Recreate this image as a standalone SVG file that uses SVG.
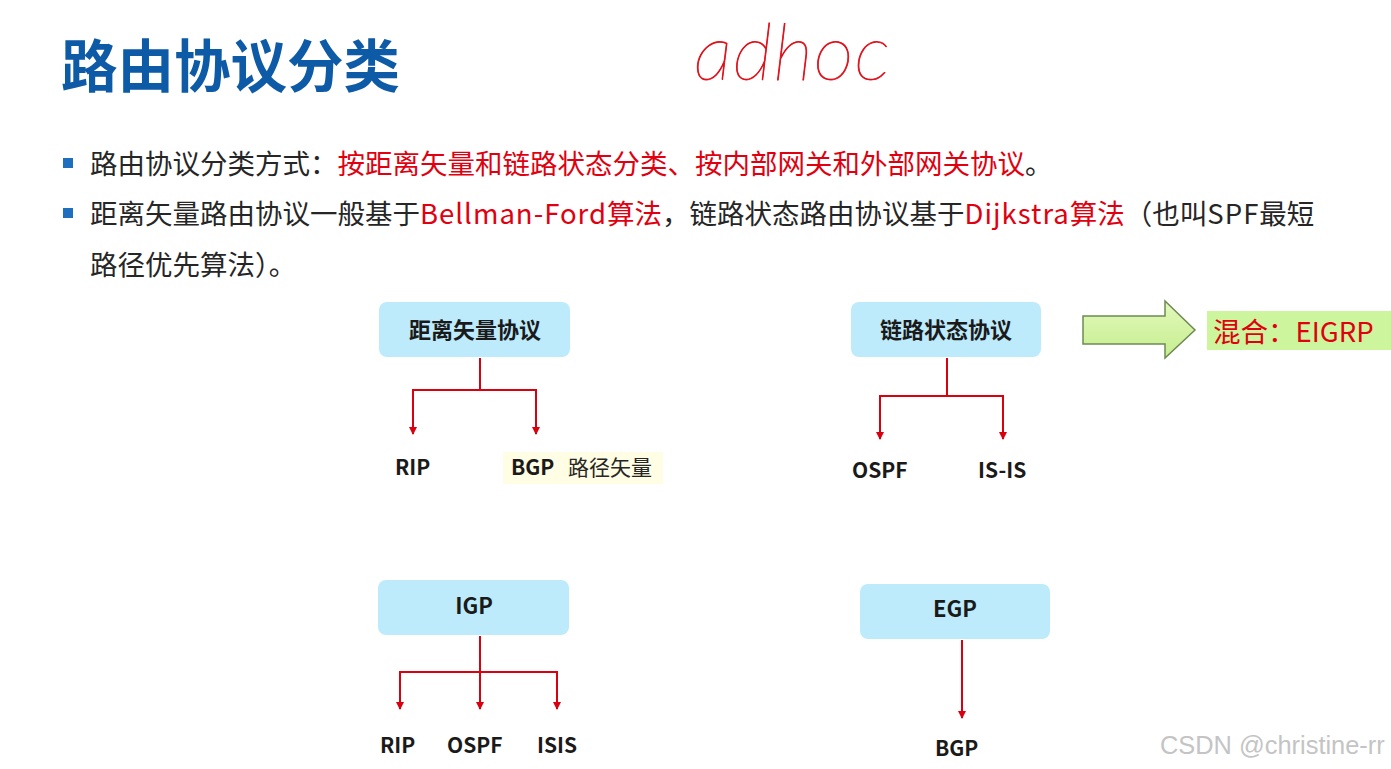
<svg xmlns="http://www.w3.org/2000/svg" width="1391" height="769" viewBox="0 0 1391 769">
<style>
text{font-family:"Noto Sans CJK SC","Liberation Sans",sans-serif;}
.title{font-size:56.5px;font-weight:bold;fill:#0D5AA7;}
.body{font-size:27.5px;fill:#262626;}
.red{fill:#E0000F;}
.lat{letter-spacing:1px;}
.node rect.box{fill:#BDEBFB;}
.ntext{font-size:22px;font-weight:bold;fill:#1A1A1A;text-anchor:middle;}
.leaf{font-size:21px;font-weight:bold;fill:#1A1A1A;}
.conn{fill:none;stroke:#D9000F;stroke-width:2;}
.bullet{fill:#1F6FBF;}
</style>
<defs>
<marker id="ah" markerWidth="10" markerHeight="10" refX="7" refY="5" orient="auto" markerUnits="userSpaceOnUse" viewBox="0 0 10 10">
<path d="M0,1 L8,5 L0,9 Z" fill="#D9000F"/>
</marker>
<linearGradient id="g" x1="0" y1="0" x2="0" y2="1">
<stop offset="0" stop-color="#E2F8BD"/>
<stop offset="1" stop-color="#C6EE8E"/>
</linearGradient>
</defs>
<rect width="1391" height="769" fill="#FFFFFF"/>

<g id="title"><text class="title" x="61" y="87">路由协议分类</text></g>
<g id="handwriting"><text x="694" y="80" font-size="78" font-weight="100" font-style="italic" fill="#E0101A" stroke="#E0101A" stroke-width="0.8" letter-spacing="1" style="font-family:Lato,Roboto,sans-serif">adhoc</text></g>

<g id="bullets">
<rect class="bullet" x="63" y="158" width="10" height="10"/>
<rect class="bullet" x="63" y="208" width="10" height="10"/>
<text class="body" x="90" y="173.5">路由协议分类方式：<tspan class="red">按距离矢量和链路状态分类、按内部网关和外部网关协议</tspan>。</text>
<text class="body" x="90" y="223.5">距离矢量路由协议一般基于<tspan class="red"><tspan class="lat">Bellman-Ford</tspan>算法</tspan>，链路状态路由协议基于<tspan class="red"><tspan class="lat">Dijkstra</tspan>算法</tspan>（也叫<tspan class="lat">SPF</tspan>最短</text>
<text class="body" x="90" y="275">路径优先算法）。</text>
</g>

<g id="connectors">
<path class="conn" d="M480,358 V390 M413,390 H536"/>
<path class="conn" d="M413,389 V434" marker-end="url(#ah)"/>
<path class="conn" d="M536,389 V434" marker-end="url(#ah)"/>
<path class="conn" d="M947,358 V396 M880,396 H1003"/>
<path class="conn" d="M880,395 V439" marker-end="url(#ah)"/>
<path class="conn" d="M1003,395 V439" marker-end="url(#ah)"/>
<path class="conn" d="M480,636 V672 M400,672 H557"/>
<path class="conn" d="M400,671 V709" marker-end="url(#ah)"/>
<path class="conn" d="M480,671 V709" marker-end="url(#ah)"/>
<path class="conn" d="M557,671 V709" marker-end="url(#ah)"/>
<path class="conn" d="M962,640 V718" marker-end="url(#ah)"/>
</g>

<g id="node-dv" class="node"><rect class="box" x="379" y="302" width="191" height="55" rx="8"/><text class="ntext" x="475" y="338">距离矢量协议</text></g>
<g id="node-ls" class="node"><rect class="box" x="851" y="302" width="190" height="55" rx="8"/><text class="ntext" x="946" y="338">链路状态协议</text></g>
<g id="node-igp" class="node"><rect class="box" x="378" y="580" width="191" height="55" rx="8"/><text class="ntext" x="474" y="614">IGP</text></g>
<g id="node-egp" class="node"><rect class="box" x="860" y="584" width="190" height="55" rx="8"/><text class="ntext" x="955" y="617">EGP</text></g>

<g id="leaf-rip1"><text class="leaf" x="395" y="475">RIP</text></g>
<g id="leaf-bgp1"><rect x="503" y="452" width="160" height="32" fill="#FFFDE3"/><text class="leaf" x="511" y="475">BGP</text><text x="568" y="475" font-size="21" fill="#262626">路径矢量</text></g>
<g id="leaf-ospf1"><text class="leaf" x="852" y="478">OSPF</text></g>
<g id="leaf-isis1"><text class="leaf" x="978" y="478">IS-IS</text></g>
<g id="leaf-rip2"><text class="leaf" x="380" y="753">RIP</text></g>
<g id="leaf-ospf2"><text class="leaf" x="447" y="753">OSPF</text></g>
<g id="leaf-isis2"><text class="leaf" x="537" y="753">ISIS</text></g>
<g id="leaf-bgp2"><text class="leaf" x="935" y="756">BGP</text></g>

<g id="hybrid-arrow"><path d="M1083,316 H1165 V301 L1195,330 L1165,358 V344 H1083 Z" fill="url(#g)" stroke="#6E8A52" stroke-width="1.5"/></g>
<g id="hybrid"><rect x="1207" y="311" width="184" height="39" fill="#CDF59E"/><text x="1213" y="342" font-size="27.5" class="red">混合：EIGRP</text></g>

<g id="watermark"><text x="1160" y="754" font-size="25.4" fill="#C4C4C4" style="font-family:'Liberation Sans',Arial,sans-serif">CSDN @christine-rr</text></g>
</svg>
